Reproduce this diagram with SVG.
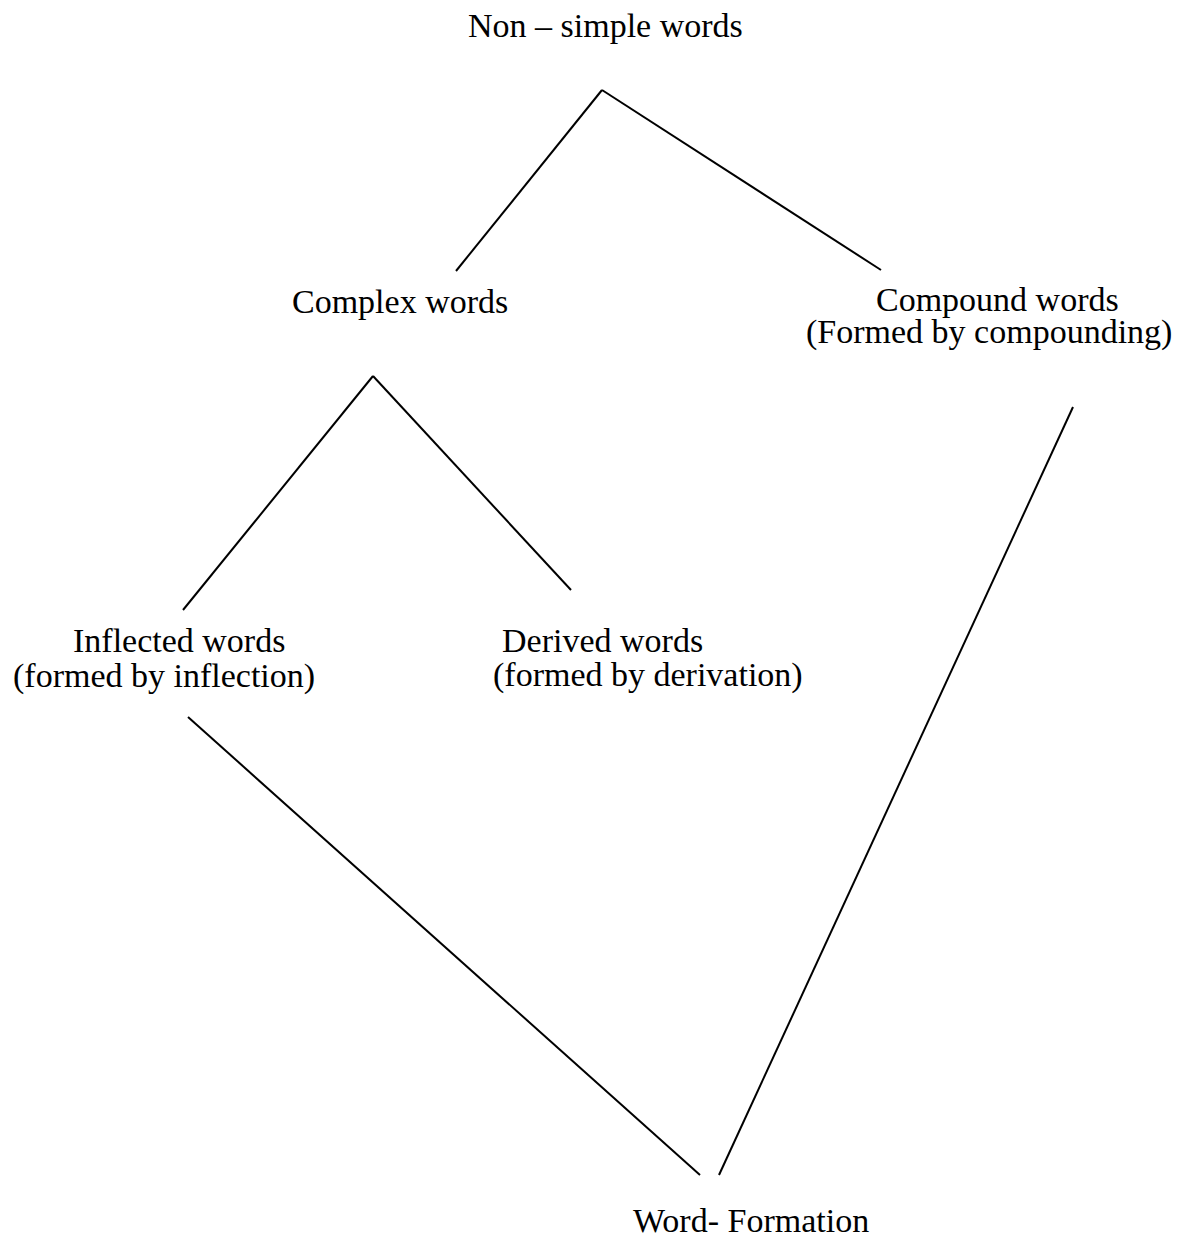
<svg xmlns="http://www.w3.org/2000/svg" width="1183" height="1239" viewBox="0 0 1183 1239">
<style>
text{font-family:"Liberation Serif","Times New Roman",serif;font-size:34px;fill:#000}
.c line{stroke:#000;stroke-width:2;fill:none}
</style>
<rect width="1183" height="1239" fill="#fff"/>
<g id="connectors" class="c">
<line x1="602" y1="90" x2="456" y2="271"/>
<line x1="602" y1="90" x2="881" y2="270"/>
<line x1="373" y1="376" x2="183" y2="610"/>
<line x1="373" y1="376" x2="571" y2="590"/>
<line x1="1073" y1="407" x2="719" y2="1175"/>
<line x1="188" y1="717" x2="700" y2="1175"/>
</g>
<g id="non-simple"><text x="468" y="37">Non – simple words</text></g>
<g id="complex"><text x="292" y="313">Complex words</text></g>
<g id="compound"><text x="876" y="311">Compound words</text><text x="806" y="343">(Formed by compounding)</text></g>
<g id="inflected"><text x="73" y="652">Inflected words</text><text x="13" y="687">(formed by inflection)</text></g>
<g id="derived"><text x="502" y="652">Derived words</text><text x="493" y="686">(formed by derivation)</text></g>
<g id="word-formation"><text x="633" y="1232">Word- Formation</text></g>
</svg>
